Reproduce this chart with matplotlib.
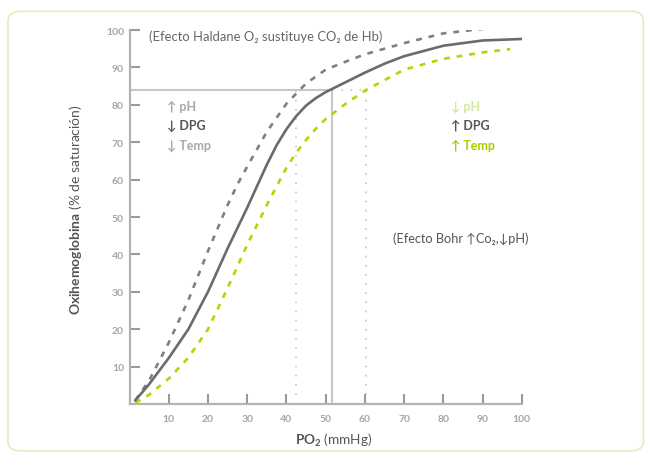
import matplotlib.pyplot as plt
from matplotlib.patches import FancyBboxPatch

plt.rcParams['font.family'] = ['Lato', 'DejaVu Sans']
plt.rcParams['mathtext.fontset'] = 'custom'
plt.rcParams['mathtext.rm'] = 'Lato'
plt.rcParams['mathtext.bf'] = 'Lato:bold'

# Curva normal (linea continua)
x_normal = [1.5, 5, 10, 15, 20, 25, 30, 35, 37.5, 40, 42.5, 45, 47.5, 50, 55, 60, 65, 70, 80, 90, 100]
y_normal = [1, 5.3, 12.3, 20, 30, 41.6, 52.5, 64, 69.2, 73.5, 77, 79.8, 81.8, 83.4, 86, 88.6, 91, 93, 95.8, 97.2, 97.6]

# Desviacion a la izquierda (gris discontinua)
x_izq = [1.5, 5, 10, 15, 20, 25, 27.5, 30, 35, 40, 45, 50, 55, 60, 70, 80, 90, 95]
y_izq = [1, 6.3, 16.4, 27.8, 40.9, 53.2, 58.7, 63.5, 72.8, 80.3, 85.7, 89.4, 91.5, 93.5, 96.5, 99.1, 100.3, 100.7]

# Desviacion a la derecha (verde discontinua)
x_der = [1.5, 5, 10, 15, 20, 25, 30, 35, 40, 42.5, 45, 47.5, 50, 55, 60, 70, 80, 90, 97]
y_der = [0.3, 2.5, 6.8, 12.4, 20, 31, 42.6, 53.2, 63.2, 67.2, 70.6, 73.6, 76.2, 80.2, 83.8, 89.4, 92.3, 94, 94.9]

# Lineas de referencia
sat_ref = 84
po2_normal = 51.6
po2_izq = 42.5
po2_der = 60.4

ticks = [10, 20, 30, 40, 50, 60, 70, 80, 90, 100]

gris_osc = '#6b6b6b'
gris_med = '#808080'
gris_cla = '#a6a6a6'
verde = '#b7d400'

fig = plt.figure(figsize=(6.45, 4.56), dpi=100)

# marco redondeado
marco = FancyBboxPatch((0.0124, 0.009), 0.985, 0.964, boxstyle="round,pad=0,rounding_size=0.02",
                       transform=fig.transFigure, facecolor='none', edgecolor='#e3edbb', linewidth=1.2)
fig.patches.append(marco)

ax = fig.add_axes([0.2008, 0.1118, 0.6083, 0.8202])
ax.set_xlim(0, 100)
ax.set_ylim(0, 100)

# lineas de referencia
ax.plot([0, po2_normal], [sat_ref, sat_ref], color='#c8c8c8', lw=1.5, zorder=1)
ax.plot([po2_normal, po2_normal], [0, sat_ref], color='#c8c8c8', lw=1.5, zorder=1)
ax.plot([po2_izq, po2_izq], [0, sat_ref], color='#c4c4c4', lw=1.2, dashes=(1, 4.5), zorder=1)
ax.plot([po2_der, po2_der], [0, sat_ref], color='#c4c4c4', lw=1.2, dashes=(1, 4.5), zorder=1)
ax.plot([po2_normal, po2_der], [sat_ref, sat_ref], color='#c4c4c4', lw=1.2, dashes=(1, 4.5), zorder=1)

# curvas
ax.plot(x_izq, y_izq, color=gris_med, lw=1.9, dashes=(2.2, 2.6), zorder=3)
ax.plot(x_der, y_der, color=verde, lw=1.9, dashes=(2.2, 2.6), zorder=3)
ax.plot(x_normal, y_normal, color=gris_osc, lw=1.9, zorder=4)

for s in ['top', 'right']:
    ax.spines[s].set_visible(False)
for s in ['left', 'bottom']:
    ax.spines[s].set_color('#b3b3b3')
    ax.spines[s].set_linewidth(1.6)

ax.set_xticks(ticks)
ax.set_yticks(ticks)
ax.tick_params(direction='in', length=7, width=1.5, color='#9a9a9a',
               labelcolor=gris_cla, labelsize=7.5)
ax.tick_params(axis='x', pad=7)
ax.tick_params(axis='y', pad=4)
for lab in ax.get_xticklabels() + ax.get_yticklabels():
    lab.set_fontweight('bold')

# textos
ax.text(4.9, 98.5, '(Efecto Haldane O₂ sustituye CO₂ de Hb)', color='#666666',
        fontsize=9.4, va='center', ha='left')
ax.text(67.2, 44.5, '(Efecto Bohr ↑Co₂,↓pH)', color='#555555',
        fontsize=9.2, va='center', ha='left')

# efectos desviacion izquierda
ax.text(9.5, 79.8, '↑ pH', color='#a8a8a8', fontsize=9, fontweight='bold', va='center')
ax.text(9.5, 74.6, '↓ DPG', color='#555555', fontsize=9, fontweight='bold', va='center')
ax.text(9.5, 69.3, '↓ Temp', color='#a8a8a8', fontsize=9, fontweight='bold', va='center')

# efectos desviacion derecha
ax.text(82, 79.8, '↓ pH', color='#d5e8a2', fontsize=9, fontweight='bold', va='center')
ax.text(82, 74.6, '↑ DPG', color='#555555', fontsize=9, fontweight='bold', va='center')
ax.text(82, 69.3, '↑ Temp', color='#a8cc00', fontsize=9, fontweight='bold', va='center')

# etiquetas de ejes
fig.text(0.117, 0.54, r'$\bf{Oxihemoglobina}$ (% de saturación)', rotation=90,
         color='#555555', fontsize=10, ha='center', va='center')
fig.text(0.518, 0.035, r'$\bf{PO_2}$ (mmHg)', color='#555555', fontsize=9.8,
         ha='center', va='center')

fig.savefig('out.png', dpi=100)
